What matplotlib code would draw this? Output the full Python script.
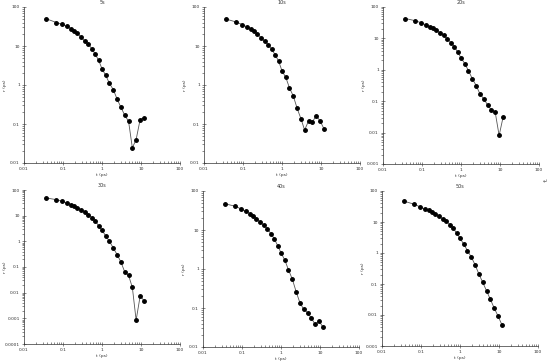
import matplotlib as mpl
mpl.use('Agg')
import matplotlib.pyplot as plt
from matplotlib.ticker import LogLocator, NullFormatter
import numpy as np

# shared time axis (ps)
t = [0.037, 0.068, 0.095, 0.125, 0.16, 0.19, 0.235, 0.29, 0.36, 0.45, 0.55, 0.67,
     0.82, 1.0, 1.25, 1.55, 1.95, 2.45, 3.05, 3.8, 4.8, 6.0, 7.5, 9.5, 12.0]

r_5s = [50, 40, 35.8, 31.8, 28, 24.6, 21, 17, 13.4, 11, 8.5, 6.2, 4.3, 2.6, 1.76,
        1.1, 0.76, 0.43, 0.27, 0.17, 0.117, 0.0245, 0.04, 0.13, 0.145]
r_10s = [49, 41, 35.5, 31, 27.7, 24.3, 20.4, 16.3, 13.2, 10.7, 8.2, 5.9, 4.1, 2.3,
         1.57, 0.85, 0.52, 0.25, 0.138, 0.07, 0.12, 0.112, 0.163, 0.12, 0.074]
r_20s = [43, 36.5, 31.5, 27, 23.5, 21.3, 17.9, 15, 12.4, 9.5, 7.4, 5.5, 3.7, 2.4,
         1.58, 0.94, 0.52, 0.315, 0.173, 0.12, 0.077, 0.052, 0.046, 0.0081, 0.031]
r_30s = [49, 42, 36.3, 31.2, 26.9, 23.2, 20, 16.7, 13.9, 11, 8.4, 6.2, 4.1, 2.7,
         1.62, 1.0, 0.55, 0.30, 0.158, 0.066, 0.047, 0.016, 0.00085, 0.0073, 0.0049]
r_40s = [47, 40.5, 34.6, 30, 26.3, 22.9, 19.5, 16, 13.4, 10.6, 8.1, 6.0, 4.0, 2.6,
         1.7, 0.96, 0.55, 0.26, 0.137, 0.093, 0.076, 0.055, 0.038, 0.046, 0.032]
r_50s = [46.7, 37.3, 30.6, 26.3, 23.9, 21.1, 18.2, 15.3, 12.6, 10.4, 8.3, 6.3, 4.4,
         3.0, 1.92, 1.2, 0.74, 0.41, 0.21, 0.115, 0.060, 0.032, 0.017, 0.0091, 0.0047]

titles = ["5s", "10s", "20s", "30s", "40s", "50s"]
series = [r_5s, r_10s, r_20s, r_30s, r_40s, r_50s]
ymins = [0.01, 0.01, 0.001, 0.0001, 0.01, 0.001]

W, H = 550, 362
# axes boxes in pixels: left, top, right, bottom
boxes = [(24, 7, 180, 163), (204, 7, 360, 163), (383, 7, 539, 164),
         (24, 190, 180, 344), (203, 191, 359, 347), (382, 191, 538, 346)]

fig = plt.figure(figsize=(W / 100, H / 100), dpi=100)

for (l, tp, r, b), ttl, ys, ymin in zip(boxes, titles, series, ymins):
    ax = fig.add_axes([l / W, 1 - b / H, (r - l) / W, (b - tp) / H])
    ax.plot(t, ys, '-', color='#555555', lw=0.6)
    ax.plot(t, ys, 'o', color='black', ms=2.5, mec='black')
    ax.set_xscale('log')
    ax.set_yscale('log')
    ax.set_xlim(0.01, 100)
    ax.set_ylim(ymin, 100)
    ax.spines['top'].set_visible(False)
    ax.spines['right'].set_visible(False)
    for s in ('left', 'bottom'):
        ax.spines[s].set_linewidth(0.5)
        ax.spines[s].set_color('#333333')
    xt = [0.01, 0.1, 1, 10, 100]
    ax.set_xticks(xt)
    ax.set_xticklabels([f"{v:g}" for v in xt])
    ydec = [10.0 ** k for k in range(int(round(np.log10(ymin))), 3)]
    ax.set_yticks(ydec)
    ax.set_yticklabels([f"{v:g}" for v in ydec])
    ax.xaxis.set_minor_locator(LogLocator(base=10, subs=np.arange(2, 10), numticks=20))
    ax.yaxis.set_minor_locator(LogLocator(base=10, subs=np.arange(2, 10), numticks=20))
    ax.xaxis.set_minor_formatter(NullFormatter())
    ax.yaxis.set_minor_formatter(NullFormatter())
    ax.tick_params(axis='x', which='major', direction='inout', length=3, width=0.4,
                   labelsize=3.2, pad=1.5, colors='#333333')
    ax.tick_params(axis='x', which='minor', direction='in', length=1.6, width=0.4,
                   colors='#333333')
    ax.tick_params(axis='y', which='major', direction='inout', length=3, width=0.4,
                   labelsize=3.2, pad=1.5, colors='#333333')
    ax.tick_params(axis='y', which='minor', direction='out', length=1.3, width=0.4,
                   colors='#333333')
    ax.set_title(ttl, fontsize=3.5, pad=2, color='#333333')
    ax.set_xlabel("t (ps)", fontsize=3.2, labelpad=1.5, color='#333333')
    ax.set_ylabel("r (ps)", fontsize=3.2, color='#333333')
    ax.yaxis.set_label_coords(-0.11, 0.5)

fig.text(545 / W, 1 - 182 / H, "\u21b5", fontsize=4, color='#555555', ha='center', va='center')

fig.savefig('out.png', dpi=100, facecolor='white')
